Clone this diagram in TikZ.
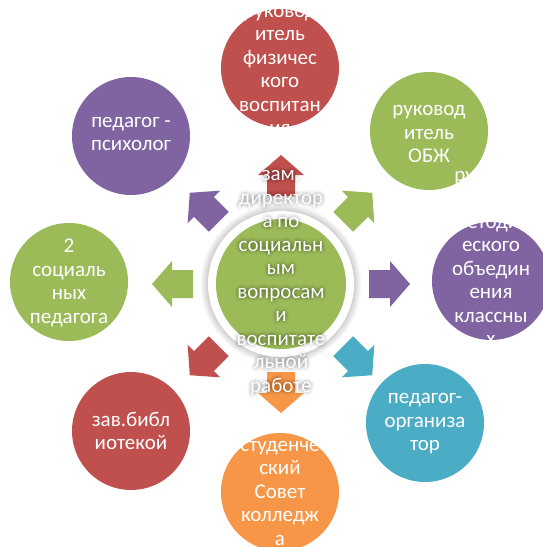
\documentclass[tikz,border=0pt]{standalone}
\usepackage{fontspec}
\setmainfont{Carlito}
\usetikzlibrary{calc}
\definecolor{cred}{HTML}{C0504D}
\definecolor{cgreen}{HTML}{9BBB59}
\definecolor{cpurple}{HTML}{8064A2}
\definecolor{cteal}{HTML}{4BACC6}
\definecolor{corange}{HTML}{F79646}
\newcommand\myblockarrow[2]{\fill[#2, shift={(281,284)}, rotate=#1] (88,-14) -- (109,-14) -- (109,-23) -- (129,0) -- (109,23) -- (109,14) -- (88,14) -- cycle;}
\newcommand\mycentertext{зам.\\директор\\а по\\социальн\\ым\\вопросам\\и\\воспитате\\льной\\работе}
\begin{document}
\begin{tikzpicture}[x=1pt,y=-1pt,
  txt/.style={text=white, align=center, font=\fontsize{21}{23.5}\selectfont, inner sep=0pt},
  sat/.style={circle, minimum size=118pt, inner sep=0pt}]
\useasboundingbox (0,0) rectangle (543,547);
\fill[white] (0,0) rectangle (543,547);
% satellites
\node[sat, fill=cred] (c1) at (280,68) {};
\node[sat, fill=cgreen] (c2) at (429,131) {};
\node[sat, fill=cpurple] (c3) at (491,281) {};
\node[sat, fill=corange] (c5) at (280,492) {};
\node[sat, fill=cred] (c6) at (131,431) {};
\node[sat, fill=cgreen] (c7) at (69,282) {};
\node[sat, fill=cpurple] (c8) at (131,136) {};
\node[txt] (t3) at (491,282) {руковод\\итель\\методич\\еского\\объедин\\ения\\классны\\х\\руковод\\ителей};
\node[sat, fill=cteal] (c4) at (425,423) {};
% arrows
\myblockarrow{90}{cred}
\myblockarrow{45}{cgreen}
\myblockarrow{0}{cpurple}
\myblockarrow{-45}{cteal}
\myblockarrow{-90}{corange}
\myblockarrow{-135}{cred}
\myblockarrow{180}{cgreen}
\myblockarrow{135}{cpurple}
% center
\foreach \r in {73.5,74.5,...,80.5} \fill[black, opacity=0.025] (281,284) circle (\r);
\fill[white] (281,284) circle (73);
\node[circle, fill=cgreen, minimum size=130pt, inner sep=0pt] (c0) at (281,284) {};
% satellite texts
\node[txt] (t1) at (280,71) {руковод\\итель\\физичес\\кого\\воспитан\\ия};
\node[txt] (t2) at (429,134) {руковод\\итель\\ОБЖ};
\node[txt] (t4) at (425,424) {педагог-\\организа\\тор};
\node[txt] (t5) at (280,493) {студенче\\ский\\Совет\\колледж\\а};
\node[txt] (t6) at (131,431) {зав.библ\\иотекой};
\node[txt] (t7) at (69,283) {2\\социаль\\ных\\педагога};
\node[txt] (t8) at (131,134) {педагог -\\психолог};
% center text with soft glow
\foreach \rr in {1,2,3,4}
  \foreach \a in {0,45,...,315}
    \node[txt, text=black, text opacity=0.018] at ($(281,283)+(\a:\rr)$) {\mycentertext};
\node[txt] (t0) at (281,283) {\mycentertext};
\end{tikzpicture}
\end{document}
